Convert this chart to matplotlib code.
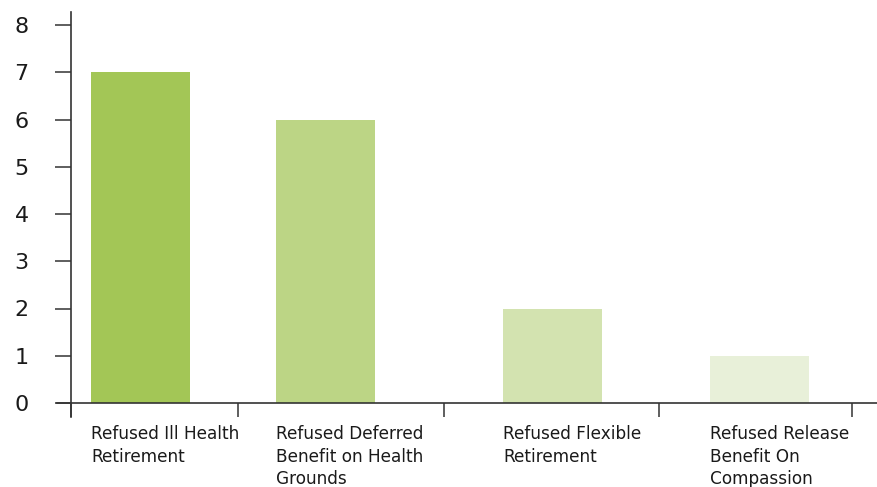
import matplotlib
matplotlib.use("Agg")
import matplotlib.pyplot as plt

# ---- data ----
categories = [
    "Refused Ill Health\nRetirement",
    "Refused Deferred\nBenefit on Health\nGrounds",
    "Refused Flexible\nRetirement",
    "Refused Release\nBenefit On\nCompassion",
]
values = [7, 6, 2, 1]
y_ticks = [0, 1, 2, 3, 4, 5, 6, 7, 8]

# ---- layout / style ----
colors = ["#A3C656", "#BCD585", "#D3E3B0", "#E8F0D9"]
bar_centers = [140.5, 325.5, 552.5, 759.5]
bar_width = 99
x_tick_pos = [71, 238, 444, 659, 852]
axis_color = "#333333"

plt.rcParams["font.family"] = ["DejaVu Sans"]
fig = plt.figure(figsize=(8.77, 4.87), dpi=100)
ax = fig.add_axes([57 / 877, 1 - 417 / 487, 1 - 57 / 877, (417 - 12) / 487])

ax.bar(bar_centers, values, width=bar_width, color=colors, zorder=1)

ax.set_xlim(57, 877)
ax.set_ylim(-14 / 47.25, (403 - 12) / 47.25)

for s in ["top", "right"]:
    ax.spines[s].set_visible(False)
ax.spines["left"].set_position(("data", 71))
ax.spines["bottom"].set_position(("data", 0))
for s in ["left", "bottom"]:
    ax.spines[s].set_color(axis_color)
    ax.spines[s].set_linewidth(1.2)
    ax.spines[s].set_zorder(3)

ax.set_yticks(y_ticks)
ax.set_yticklabels([str(t) for t in y_ticks])
ax.tick_params(axis="y", direction="out", length=11.5, width=1.1, color=axis_color,
               pad=19, labelsize=16, labelcolor="#1a1a1a")
ax.set_xticks(x_tick_pos)
ax.set_xticklabels([])
ax.tick_params(axis="x", direction="out", length=10, width=1.1, color=axis_color)

for c, lab in zip(bar_centers, categories):
    ax.text(c - bar_width / 2, -0.47, lab, ha="left", va="top", fontsize=12.2,
            color="#1a1a1a", linespacing=1.33)

fig.savefig("out.png", dpi=100)
